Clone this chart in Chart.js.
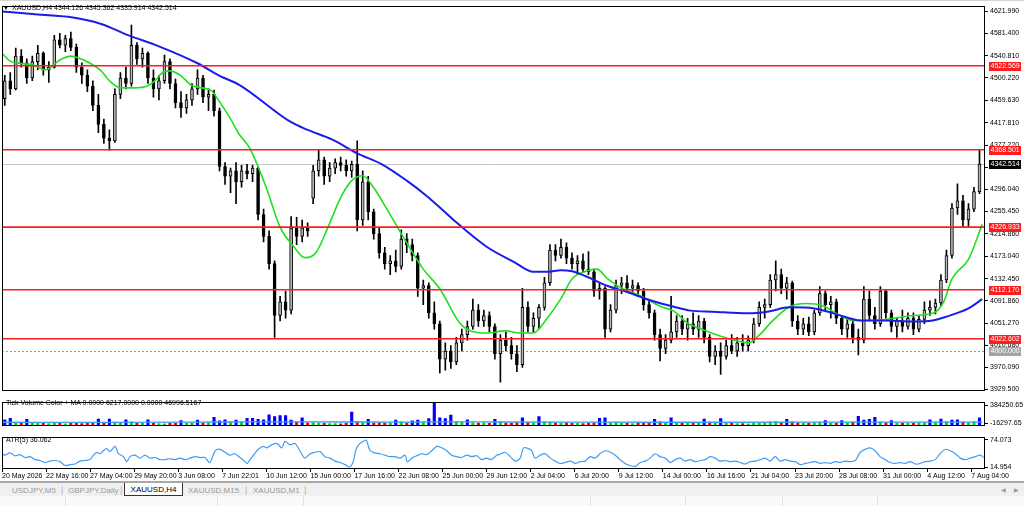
<!DOCTYPE html>
<html lang="en">
<head>
<meta charset="UTF-8">
<title>XAUUSD,H4</title>
<script src="https://cdn.jsdelivr.net/npm/chart.js@4.4.1/dist/chart.umd.min.js"></script>
<style>
  body { margin: 0; width: 1024px; height: 506px; overflow: hidden; background: #fff; position: relative;
         font-family: 'Liberation Sans', Arial, sans-serif; }
  canvas { position: absolute; left: 0; }
  .txt { position: absolute; font-size: 7px; line-height: 8px; color: #000; white-space: nowrap; }
  #topline { position: absolute; left: 0; top: 0; width: 1024px; height: 1px; background: #d4d4d4; }
  #tabbar { position: absolute; left: 0; top: 481px; width: 1024px; height: 15px; background: #f0f0f0;
            border-top: 2px solid #a8a8a8; }
  #status { position: absolute; left: 0; top: 496px; width: 1024px; height: 10px; background: #f9f9f9; }
  .sep { position: absolute; top: 0; width: 1px; height: 10px; background: #e2e2e2; }
  .tab { position: absolute; top: 2px; font-size: 8px; line-height: 11px; color: #9a9a9a; white-space: nowrap; }
  .bar { position: absolute; top: 2px; font-size: 9px; line-height: 11px; color: #b0b0b0; }
  #active { position: absolute; left: 124px; top: 0; width: 57px; height: 12px; background: #fff;
            border: 1px solid #333; border-top: none; font-size: 8px; line-height: 13px; color: #000; text-align: center; }
</style>
</head>
<body>

<canvas id="mainChart" width="1024" height="397" style="top:0"></canvas>
<canvas id="volChart" width="1024" height="36" style="top:396px"></canvas>
<canvas id="atrChart" width="1024" height="53" style="top:431px"></canvas>

<div id="topline"></div>
<div class="txt" style="left:3px;top:4px;font-size:6px">&#9660;</div>
<div class="txt" id="header" style="left:12px;top:4px"></div>
<div class="txt" style="left:6px;top:399px">Tick Volume Color + MA 0.0000 6217.0000 0.0000 46996.5167</div>
<div class="txt" style="left:6px;top:436px">ATR(5) 36.062</div>

<div id="tabbar">
  <div class="tab" style="left:12px">USDJPY,M5</div>
  <div class="bar" style="left:61px">|</div>
  <div class="tab" style="left:68px">GBPJPY,Daily</div>
  <div class="bar" style="left:120px">|</div>
  <div id="active">XAUUSD,H4</div>
  <div class="tab" style="left:188px">XAUUSD,M15</div>
  <div class="bar" style="left:245px">|</div>
  <div class="tab" style="left:253px">XAUUSD,M1</div>
  <div class="bar" style="left:304px">|</div>
  <div class="tab" style="left:1001px;font-size:6px">&#9664;</div>
  <div class="tab" style="left:1014px;font-size:6px">&#9654;</div>
</div>
<div id="status">
  <div class="sep" style="left:65px"></div>
  <div class="sep" style="left:217px"></div>
  <div class="sep" style="left:303px"></div>
  <div class="sep" style="left:590px"></div>
  <div class="sep" style="left:685px"></div>
  <div class="sep" style="left:782px"></div>
  <div class="sep" style="left:877px"></div>
</div>

<script>
// ---- data ----
const symbol = 'XAUUSD,H4';
const lastBar = [4344.126, 4345.362, 4335.914, 4342.514];

const priceTicks = [4621.990, 4581.400, 4540.810, 4500.220, 4459.630, 4417.810, 4377.220, 4336.630, 4296.040,
                    4255.450, 4214.860, 4173.040, 4132.450, 4091.860, 4051.270, 4010.680, 3970.090, 3929.500];

const xLabels = ['20 May 2026', '22 May 16:00', '27 May 04:00', '29 May 20:00', '3 Jun 08:00', '7 Jun 22:01',
                 '10 Jun 12:00', '15 Jun 00:00', '17 Jun 16:00', '22 Jun 08:00', '25 Jun 00:00', '29 Jun 12:00',
                 '2 Jul 04:00', '6 Jul 20:00', '9 Jul 12:00', '14 Jul 00:00', '16 Jul 16:00', '21 Jul 04:00',
                 '23 Jul 20:00', '28 Jul 08:00', '31 Jul 00:00', '4 Aug 12:00', '7 Aug 04:00'];

const opens = [
  4462,4495,4480,4540,4528,4500,4530,4545,4515,4520, 4570,4560,4572,4556,4520,4505,4485,4450,4415,4390,
  4385,4470,4500,4490,4560,4535,4545,4500,4480,4495, 4530,4490,4455,4445,4460,4480,4500,4465,4470,4440,
  4338,4320,4330,4310,4330,4325,4335,4250,4210,4160, 4065,4090,4075,4225,4210,4225,4280,4330,4350,4320,
  4335,4345,4340,4330,4342,4240,4310,4255,4215,4180, 4160,4165,4155,4205,4195,4175,4115,4120,4070,4050,
  3985,4000,3980,4015,4030,4045,4075,4055,4065,4045, 3995,4020,4010,3995,3975,4080,4045,4060,4080,4125,
  4185,4175,4190,4170,4160,4165,4150,4145,4110,4115, 4040,4075,4120,4125,4115,4120,4110,4085,4070,4030,
  4005,4020,4035,4055,4040,4050,4040,4055,4025,3990, 4000,3990,4010,4000,4015,4010,4020,4050,4080,4085,
  4130,4140,4115,4125,4055,4040,4050,4035,4070,4105, 4085,4090,4060,4040,4050,4025,4020,4095,4065,4050,
  4110,4070,4045,4055,4045,4060,4040,4058,4075,4080, 4088,4130,4175,4262,4275,4240,4260,4292];
const highs = [
  4505,4510,4555,4552,4535,4540,4560,4548,4530,4578, 4582,4578,4584,4562,4528,4515,4495,4470,4425,4405,
  4480,4510,4520,4597,4565,4555,4548,4515,4505,4542, 4535,4498,4475,4470,4490,4515,4505,4480,4478,4445,
  4345,4335,4345,4340,4342,4340,4338,4260,4220,4165, 4100,4110,4246,4245,4240,4235,4340,4368,4355,4345,
  4352,4355,4350,4348,4385,4330,4320,4260,4225,4190, 4175,4185,4222,4215,4205,4180,4130,4125,4090,4055,
  4015,4010,4025,4040,4055,4095,4085,4075,4072,4050, 4030,4035,4025,4010,4115,4090,4070,4085,4135,4195,
  4195,4205,4198,4180,4175,4178,4182,4150,4125,4118, 4085,4130,4135,4138,4130,4125,4115,4095,4075,4040,
  4030,4100,4065,4065,4060,4070,4065,4060,4030,4010, 4015,4020,4030,4025,4030,4028,4060,4090,4095,4140,
  4165,4150,4135,4128,4065,4060,4062,4075,4118,4110, 4100,4095,4065,4060,4055,4040,4118,4110,4080,4118,
  4112,4075,4060,4075,4070,4070,4065,4090,4092,4095, 4140,4185,4270,4306,4285,4270,4300,4369];
const lows = [
  4450,4470,4478,4520,4490,4495,4515,4505,4492,4518, 4555,4548,4550,4510,4490,4475,4440,4400,4380,4368,
  4382,4462,4480,4485,4525,4520,4490,4465,4460,4490, 4480,4445,4428,4435,4450,4470,4455,4440,4430,4330,
  4305,4290,4270,4300,4315,4310,4240,4200,4150,4025, 4055,4060,4068,4195,4200,4210,4270,4320,4305,4310,
  4325,4330,4320,4318,4220,4230,4240,4205,4170,4150, 4140,4145,4150,4180,4165,4100,4085,4060,4040,3960,
  3965,3968,3975,4000,4020,4040,4045,4045,4035,3985, 3943,4000,3985,3962,3970,4035,4035,4040,4075,4120,
  4165,4170,4160,4150,4140,4145,4140,4100,4095,4025, 4035,4070,4105,4110,4105,4100,4075,4060,4020,3982,
  3995,4015,4025,4030,4020,4030,4025,4015,3980,3975, 3957,3985,3995,3990,4000,4000,4015,4045,4060,4080,
  4110,4105,4095,4045,4030,4030,4028,4030,4065,4075, 4060,4050,4030,4025,4015,3993,4015,4055,4040,4045,
  4060,4035,4025,4035,4040,4030,4035,4050,4065,4068, 4082,4125,4170,4250,4228,4228,4255,4288];
const closes = [
  4495,4480,4540,4528,4500,4530,4545,4515,4520,4570, 4560,4572,4556,4520,4505,4485,4450,4415,4390,4385,
  4470,4500,4490,4560,4535,4545,4500,4480,4495,4530, 4490,4455,4445,4460,4480,4500,4465,4470,4440,4338,
  4320,4330,4310,4330,4325,4335,4250,4210,4160,4065, 4090,4075,4225,4210,4225,4220,4330,4350,4320,4335,
  4345,4340,4330,4342,4240,4310,4255,4215,4180,4160, 4165,4155,4205,4195,4175,4115,4120,4070,4050,3985,
  4000,3980,4015,4030,4045,4075,4055,4065,4045,3995, 4020,4010,3995,3975,4080,4045,4060,4080,4125,4185,
  4175,4190,4170,4160,4165,4150,4145,4110,4115,4040, 4075,4120,4125,4115,4120,4110,4085,4070,4030,4005,
  4020,4035,4055,4040,4050,4040,4055,4025,3990,4000, 3990,4010,4000,4015,4010,4020,4050,4080,4085,4130,
  4140,4115,4125,4055,4040,4050,4035,4070,4105,4085, 4090,4060,4040,4050,4025,4020,4095,4065,4050,4110,
  4070,4045,4055,4045,4060,4040,4058,4075,4080,4088, 4130,4175,4262,4275,4240,4260,4292,4342.514];

const vols = [
  86800,110500,35000,30000,91500,30000,25000,28000,22000,35000, 30000,18000,25000,30000,20000,28000,33000,98700,40000,98700,
  45000,30000,86800,50000,28000,25000,86800,30000,22000,18000, 25000,30000,71300,28000,35000,79600,30000,40000,127200,67700,
  86800,45000,79600,50000,110500,110500,91500,86800,170000,139000, 158000,158000,79600,45000,118900,35000,40000,30000,25000,20000,
  22000,18000,25000,217500,55000,45000,91500,40000,35000,30000, 28000,79600,45000,30000,67700,79600,50000,107000,365000,118900,
  107000,166400,55000,45000,86800,40000,30000,35000,25000,91500, 55000,35000,30000,40000,118900,40000,35000,139000,50000,45000,
  35000,30000,40000,25000,30000,20000,28000,35000,110500,118900, 40000,45000,30000,25000,20000,35000,40000,30000,91500,50000,
  35000,118900,40000,30000,25000,35000,30000,98700,45000,40000, 107000,35000,25000,20000,22000,18000,30000,40000,35000,50000,
  55000,40000,91500,50000,35000,30000,25000,40000,45000,71300, 35000,30000,71300,40000,45000,146200,79600,91500,127200,50000,
  40000,71300,35000,30000,25000,30000,35000,40000,86800,45000, 98700,55000,79600,86800,50000,40000,55000,118900];

// moving averages, sampled along the bar index
const fastMaIdx = [0,3,6.5,11,16,21,25,28,32,36, 39,43,48,53,56,58,61,65,69,76, 78,83,86,90,96,101,106,110,114,118,
                   123,127,131,135,140,147,153,159,167,176, 183,188,193,198,203,207,212,216,220,224,
                   232,239,244,249,253,261,266,271,275,280, 286,292,298,303,309,316,324,331,338,342, 345,351,356];
const fastMaVal = [4545,4531,4527,4524,4515,4533,4540,4536,4527,4513, 4495,4482,4482,4486,4497,4509,4513,4504,4486,4477,
                   4464,4425,4398,4371,4299,4227,4191,4171,4180,4222, 4281,4312,4321,4299,4258,4198,4150,4114,4047,4033,
                   4037,4033,4033,4060,4096,4132,4146,4150,4132,4118, 4101,4082,4073,4051,4042,4027,4020,4015,4029,4056,
                   4081,4087,4083,4069,4056,4056,4060,4065,4069,4090, 4132,4168,4232];
const slowMaIdx = [0,11,24,36,46,57,71,79,86,105, 111,120,129,138,147,154,159,164,176,186,
                   193,198,203,207,212,220,227,236,244,250, 258,271,278,286,295,302,312,321,331,338, 343,351,356];
const slowMaVal = [4622,4617,4612,4599,4578,4558,4527,4504,4488,4419, 4405,4387,4362,4342,4312,4285,4263,4240,4191,4163,
                   4145,4145,4148,4146,4137,4119,4108,4092,4081,4074, 4072,4069,4072,4080,4078,4069,4056,4056,4054,4056,
                   4063,4078,4095];

const volMaIdx = [0,40,70,90,110,150,160,180,220,260,300,330,356];
const volMaVal = [44000,42000,45000,52000,50000,46000,52000,48000,45000,44000,45000,47000,46997];
const volAxisLabels = ['384250.65', '-16297.65'];

const atrIdx = [0,1.1,2.9,4.7,6.5,8.4,10.2,12,13.8,15.6, 17.4,19.2,21.1,22.9,24.7,26.5,28.3,30.1,32,33.2,
  34.4,35.6,36.8,38,39.2,41,42.3,44.1,45.3,46.5, 48.3,50.1,51.9,53.8,55.6,57.4,59.2,61,62.8,64.6,
  66.5,68.3,70.1,71.9,73.7,75.5,77.4,79.2,81,82.8, 84.6,86.4,88.3,89.1,90.1,91.3,93.1,94.9,96.1,97.9,
  99.8,101.6,102.8,104.6,106.4,108.2,110,111.9,113.7,115.5, 117.3,119.1,120.9,122.8,124.6,126.4,127.6,128.6,130,131.8,
  132.4,133.7,135.5,137.3,139.1,140.9,142.7,144.6,146.4,147.2, 148.8,150.6,152.4,154.2,156.1,157.9,159.7,161.5,163.3,165.1,
  166.9,168.8,170.6,172.4,174.2,176,177.8,179.7,180.9,182.7, 184.6,186.4,188.2,189.4,191.2,192.4,193.6,195.5,197.3,199.1,
  200.9,202.7,204.5,206.4,208.2,210,211.8,213.6,215.4,217.2, 219.1,220.9,222.7,224.5,226.3,228.1,230,231.8,233.6,235.4,
  237.2,239,240.9,242.7,244.5,246.3,248.1,249.9,251.8,253.6, 255.4,257.2,259,260.8,262.7,264.5,266.3,268.1,269.9,271.7,
  273.5,275.4,277.2,279,280.8,282.6,284.4,286.3,288.1,289.9, 291.7,293.5,295.3,297.2,299,300.8,302.6,304.4,306.2,308.1,
  309.9,311.7,313.5,315.3,317.1,318.9,320.8,322.6,324.4,326.2, 328,329.8,331.7,333.5,335.3,337.1,338.9,340.7,342.6,344.4,
  346.2,348,349.8,351.6,353.5,355.3,356.5];
const atrVal = [44.1,41,46,39.7,42.2,35.9,37.8,31.4,29.5,25.1, 28.2,29.5,27,18.7,20.6,21.9,28.2,29.5,31.4,41,
  47.3,44.1,50.5,55,48.6,60,44.1,37.8,27,37.8, 41,34.6,41,34.6,35.9,31.4,31.4,33.3,31.4,34.6,
  31.4,34.6,37.8,35.9,35.9,25.1,50.5,53.7,47.3,41, 44.1,35.9,27,23.1,31.4,41,53.7,60,56.9,63.2,
  66.4,56.9,70.9,63.2,66.4,50.5,34.6,44.1,47.3,48.6, 37.8,34.6,28.2,25.1,20.6,15.5,28.2,53.7,66.4,72.8,
  72.8,50.5,46,44.1,41,37.8,37.8,34.6,41,26.3, 34.6,39.7,44.1,42.2,50.5,60,56.9,50.5,41,37.8,
  35.9,41,37.8,39.7,31.4,34.6,31.4,41,43,47.3, 37.8,28.2,34.6,56.9,55,50.5,34.6,41,44.1,34.6,
  28.2,23.1,25.1,28.2,23.1,27,28.2,37.8,34.6,44.1, 50.5,47.3,41,31.4,23.1,18.7,16.8,25.1,28.2,34.6,
  44.1,37.8,34.6,25.1,31.4,34.6,28.2,31.4,27,29.5, 31.4,37.8,34.6,28.2,29.5,27,28.2,25.1,21.9,27,
  28.2,31.4,34.6,28.2,37.8,28.2,31.4,28.2,27,20.6, 23.1,25.1,27,23.1,25.1,23.1,27,25.1,28.2,27,
  29.5,47.3,53.7,56.9,50.5,37.8,31.4,25.1,23.1,25.1, 23.1,27,21.9,23.1,27,28.2,31.4,44.1,53.7,50.5,
  44.1,34.6,31.4,34.6,37.8,41,36.06];
const atrAxis = [74.073, 14.954];

const levels = [4522.569, 4368.501, 4226.933, 4112.170, 4022.602];
const lastPrice = 4342.514;
const roundLevel = 4000.000;

// ---- setup ----
document.getElementById('header').textContent = symbol + '  ' + lastBar.map(v => v.toFixed(3)).join(' ');

Chart.defaults.font.family = "'Liberation Sans', Arial, sans-serif";
Chart.defaults.font.size = 7;
Chart.defaults.color = '#000';

const barIdx = closes.map((c, k) => 2 * k + 1);
const xMax = 357;

const axisRight = (extra) => Object.assign({
  position: 'right',
  afterFit: s => { s.width = 39; },
  ticks: { autoSkip: false, color: '#000', padding: 2 },
  grid: { drawOnChartArea: false, drawTicks: true, tickLength: 3, color: '#000' },
  border: { display: false }
}, extra);

const framePlugin = {
  id: 'frame',
  afterDraw(chart) {
    const { ctx, chartArea: a } = chart;
    ctx.save();
    ctx.strokeStyle = '#000';
    ctx.lineWidth = 1;
    ctx.strokeRect(Math.round(a.left) + 0.5, Math.round(a.top) + 0.5,
                   Math.round(a.right - a.left) - 1, Math.round(a.bottom - a.top) - 1);
    ctx.restore();
  }
};

function tag(ctx, y, text, bg) {
  ctx.fillStyle = bg;
  ctx.fillRect(989, Math.round(y) - 4, 32, 9);
  ctx.fillStyle = '#fff';
  ctx.font = "7px 'Liberation Sans', Arial, sans-serif";
  ctx.textBaseline = 'middle';
  ctx.fillText(text, 990.5, Math.round(y) + 0.5);
}

const levelPlugin = {
  id: 'levels',
  beforeDatasetsDraw(chart) {
    const { ctx, chartArea: a, scales: { y } } = chart;
    ctx.save();
    ctx.lineWidth = 1;
    ctx.strokeStyle = '#c6c6c6';
    let py = Math.round(y.getPixelForValue(lastPrice)) + 0.5;
    ctx.beginPath(); ctx.moveTo(a.left, py); ctx.lineTo(a.right, py); ctx.stroke();
    ctx.setLineDash([2, 2]);
    ctx.strokeStyle = '#9a9a9a';
    py = Math.round(y.getPixelForValue(roundLevel)) + 0.5;
    ctx.beginPath(); ctx.moveTo(a.left, py); ctx.lineTo(a.right, py); ctx.stroke();
    ctx.restore();
  },
  afterDatasetsDraw(chart) {
    const { ctx, chartArea: a, scales: { y } } = chart;
    ctx.save();
    ctx.lineWidth = 1.6;
    ctx.strokeStyle = '#ff1c1c';
    levels.forEach(v => {
      const py = y.getPixelForValue(v);
      ctx.beginPath(); ctx.moveTo(a.left, py); ctx.lineTo(a.right, py); ctx.stroke();
    });
    ctx.restore();
  },
  afterDraw(chart) {
    const { ctx, scales: { y } } = chart;
    ctx.save();
    levels.forEach(v => tag(ctx, y.getPixelForValue(v), v.toFixed(3), '#ff1c1c'));
    tag(ctx, y.getPixelForValue(lastPrice), lastPrice.toFixed(3), '#000');
    tag(ctx, y.getPixelForValue(roundLevel), roundLevel.toFixed(3), '#a4a4a4');
    ctx.restore();
  }
};

// ---- price window ----
new Chart(document.getElementById('mainChart'), {
  type: 'bar',
  data: {
    datasets: [
      { type: 'bar', data: barIdx.map((x, k) => ({ x: x, y: [lows[k], highs[k]] })),
        backgroundColor: '#000', barThickness: 1, grouped: false, order: 3 },
      { type: 'bar', data: barIdx.map((x, k) => ({ x: x, y: [opens[k], closes[k]] })),
        backgroundColor: closes.map((c, k) => c >= opens[k] ? '#b8b8b8' : '#000'),
        borderColor: '#000', borderWidth: 1, borderSkipped: false,
        barThickness: 3, minBarLength: 1, grouped: false, order: 2 },
      { type: 'line', data: fastMaIdx.map((x, i) => ({ x: x, y: fastMaVal[i] })),
        borderColor: '#1fe01f', borderWidth: 1.6, pointRadius: 0, cubicInterpolationMode: 'monotone', order: 1 },
      { type: 'line', data: slowMaIdx.map((x, i) => ({ x: x, y: slowMaVal[i] })),
        borderColor: '#1c1ce8', borderWidth: 2, pointRadius: 0, cubicInterpolationMode: 'monotone', order: 0 }
    ]
  },
  options: {
    responsive: false, animation: false,
    layout: { padding: { left: 2, top: 2, right: 0, bottom: 2 } },
    plugins: { legend: { display: false }, tooltip: { enabled: false } },
    scales: {
      x: { type: 'linear', min: 0, max: xMax, offset: false, display: false },
      y: axisRight({
        min: 3927.17, max: 4631.49,
        afterBuildTicks: s => { s.ticks = priceTicks.map(v => ({ value: v })); },
        ticks: { autoSkip: false, color: '#000', padding: 2, callback: v => v.toFixed(3) }
      })
    }
  },
  plugins: [levelPlugin, framePlugin]
});

// ---- tick volume window ----
new Chart(document.getElementById('volChart'), {
  type: 'bar',
  data: {
    datasets: [
      { type: 'line', data: volMaIdx.map((x, i) => ({ x: x, y: volMaVal[i] })),
        borderColor: '#3aa0f0', borderWidth: 1.3, pointRadius: 0, cubicInterpolationMode: 'monotone', order: 0 },
      { type: 'bar', data: barIdx.map((x, k) => ({ x: x, y: vols[k] })),
        backgroundColor: vols.map((v, k) => v > 60000 ? '#0000ff' : (closes[k] >= opens[k] ? '#00e000' : '#ff0000')),
        barThickness: 2.5, grouped: false, order: 1 }
    ]
  },
  options: {
    responsive: false, animation: false,
    layout: { padding: { left: 2, top: 1, right: 0, bottom: 1 } },
    plugins: { legend: { display: false }, tooltip: { enabled: false } },
    scales: {
      x: { type: 'linear', min: 0, max: xMax, offset: false, display: false },
      y: axisRight({
        min: -16297.65, max: 384250.65,
        afterBuildTicks: s => {
          const span = s.max - s.min;
          s.ticks = [{ value: s.max - span * 0.13 }, { value: s.min + span * 0.1 }];
        },
        ticks: { autoSkip: false, color: '#000', padding: 2, callback: (v, i) => volAxisLabels[i] }
      })
    }
  },
  plugins: [framePlugin]
});

// ---- ATR window with the time axis ----
new Chart(document.getElementById('atrChart'), {
  type: 'line',
  data: {
    datasets: [
      { data: atrIdx.map((x, i) => ({ x: x, y: atrVal[i] })),
        borderColor: '#3d9cf5', borderWidth: 1.2, pointRadius: 0, tension: 0.3 }
    ]
  },
  options: {
    responsive: false, animation: false,
    layout: { padding: { left: 2, top: 2, right: 0, bottom: 0 } },
    plugins: { legend: { display: false }, tooltip: { enabled: false } },
    scales: {
      x: {
        type: 'linear', min: 0, max: xMax, offset: false, position: 'bottom',
        afterBuildTicks: s => { s.ticks = xLabels.map((t, i) => ({ value: i * 16 })); },
        afterFit: s => { s.height = 15; },
        ticks: { autoSkip: false, maxRotation: 0, align: 'start', color: '#000', padding: 0,
                 callback: (v, i) => xLabels[i] },
        grid: { drawOnChartArea: false, drawTicks: true, tickLength: 3, color: '#000' },
        border: { display: false }
      },
      y: axisRight({
        min: 11.14, max: 79.79,
        afterBuildTicks: s => { s.ticks = atrAxis.map(v => ({ value: v })); },
        ticks: { autoSkip: false, color: '#000', padding: 2, callback: v => v.toFixed(3) }
      })
    }
  },
  plugins: [framePlugin]
});
</script>
</body>
</html>
